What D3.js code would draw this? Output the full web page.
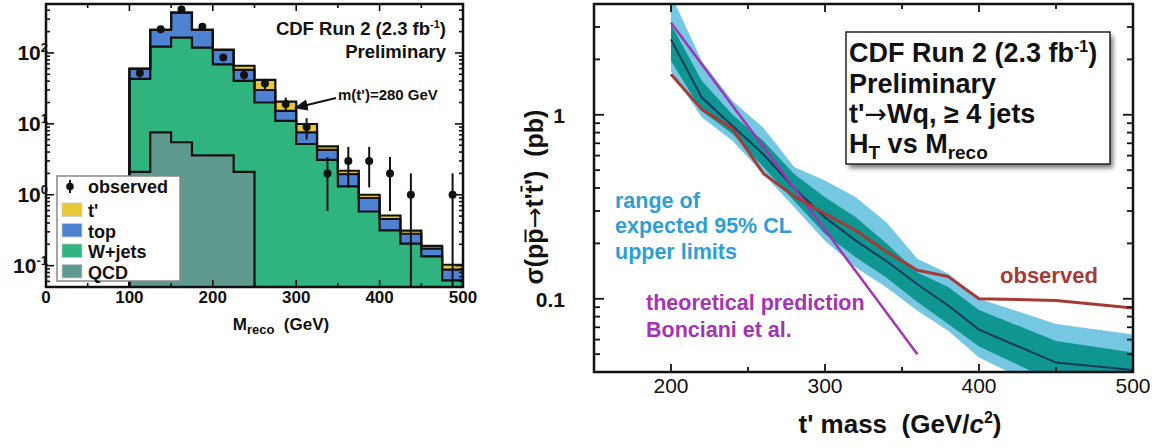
<!DOCTYPE html>
<html>
<head>
<meta charset="utf-8">
<script src="https://cdn.jsdelivr.net/npm/d3@7"></script>
<style>
  body { margin: 0; background: #fff; }
  svg { display: block; }
  text { font-family: "Liberation Sans", Arial, Helvetica, sans-serif; }
  .arrow { font-family: "DejaVu Sans", sans-serif; }
</style>
</head>
<body>
<svg id="chart" width="1165" height="448"></svg>
<script>
// ---------- Left panel: reconstructed mass distribution (events per 25 GeV bin) ----------
const binLo    = [100,125,150,175,200,225,250,275,300,325,350,375,400,425,450,475];
const qcdEv    = [2.1,7.6,5.5,3.6,3.6,2.1,0,0,0,0,0,0,0,0,0,0];
const wjetsEv  = [40.9,115.4,158.5,115.4,65.4,38.3,20,11,5.2,3.1,1.31,0.58,0.314,0.204,0.135,0.062];
const topEv    = [16.6,88,206,92,41,17.2,10,4.2,2.4,1.2,0.65,0.32,0.141,0.078,0.039,0.026];
const tprimeEv = [0.3,0.8,1.5,1.5,1.5,8.4,11.7,5.4,2.35,0.5,0.22,0.1,0.055,0.029,0.016,0.015];

const obsMass = [112.5,137.5,162.5,187.5,212.5,237.5,262.5,287.5,312.5,337.5,362.5,387.5,412.5,437.5,487.5];
const obsEv   = [52,216,410,235,86,49,37,19,9,2,3,3,2,1,1];
const obsErr  = [7.2,14.7,20.2,15.3,9.3,7,6.1,4.4,3,1.41,1.73,1.73,1.41,1,1];

const leftXTicks = [0,100,200,300,400,500];
const leftYTicks = [{v:100, e:"2"}, {v:10, e:"1"}, {v:1, e:"0"}, {v:0.1, e:"-1"}];

// ---------- Right panel: 95% CL upper limits on the t' pair cross section ----------
const massPts   = [200,220,240,260,280,300,320,340,360,380,400,450,500];
const obsLimit  = [1.66,1.07,0.84,0.48,0.36,0.29,0.235,0.18,0.143,0.132,0.100,0.098,0.089];
const expMedian = [2.57,1.24,0.87,0.61,0.40,0.277,0.207,0.16,0.12,0.092,0.068,0.045,0.041];
const exp1Lo    = [1.96,1.05,0.786,0.52,0.34,0.225,0.168,0.13,0.096,0.073,0.055,0.035,0.031];
const exp1Hi    = [3.1,1.53,1.0,0.72,0.477,0.356,0.277,0.2,0.139,0.116,0.087,0.059,0.051];
const exp2Lo    = [1.72,0.97,0.72,0.477,0.314,0.207,0.148,0.115,0.086,0.067,0.048,0.03,0.028];
const exp2Hi    = [4.5,1.96,1.19,0.85,0.52,0.44,0.356,0.26,0.165,0.137,0.10,0.073,0.064];
const theoryMass = [200,220,240,260,280,300,320,340,360];
const theoryXsec = [3.16,1.88,1.12,0.67,0.40,0.237,0.141,0.084,0.050];

const rightXTicks = [200,300,400,500];
const rightYTicks = [{v:1, t:"1"}, {v:0.1, t:"0.1"}];

const svg = d3.select("#chart");
const defs = svg.append("defs");

// colours
const C = {
  tprime: "#e8c836", top: "#4f82d2", wjets: "#2fb47f", qcd: "#5f9a91",
  band2: "#76c8e2", band1: "#0f9592", median: "#1b3a5c",
  observed: "#a63a37", theory: "#a334b4", rangeText: "#2e9fd3"
};

// helper: log-axis minor tick values inside a domain
function logMinor(lo, hi) {
  const out = [];
  for (let e = Math.floor(Math.log10(lo)); e <= Math.ceil(Math.log10(hi)); e++) {
    for (let m = 1; m <= 9; m++) {
      const v = m * Math.pow(10, e);
      if (v >= lo * 0.999 && v <= hi * 1.001) out.push({v, major: m === 1});
    }
  }
  return out;
}

// ===================== LEFT PANEL =====================
const L = {x0: 46, x1: 463, y0: 4, y1: 287};
const xL = d3.scaleLinear().domain([0, 500]).range([L.x0, L.x1]);
const yL = d3.scaleLog().domain([0.05, 490]).range([L.y1, L.y0]);
const yLs = v => (v > 0 ? Math.min(L.y1 + 6, yL(v)) : L.y1 + 6);

defs.append("clipPath").attr("id", "clipL")
  .append("rect").attr("x", L.x0).attr("y", L.y0)
  .attr("width", L.x1 - L.x0).attr("height", L.y1 - L.y0);

const rows = binLo.map((lo, i) => ({lo, hi: lo + 25,
  qcd: qcdEv[i], wjets: wjetsEv[i], top: topEv[i], tprime: tprimeEv[i]}));
const keys = ["qcd", "wjets", "top", "tprime"];
const stacked = d3.stack().keys(keys)(rows);

function stepPts(layer) {
  const pts = [[layer[0].data.lo, 0]];
  layer.forEach(d => { pts.push([d.data.lo, d[1]]); pts.push([d.data.hi, d[1]]); });
  pts.push([layer[layer.length - 1].data.hi, 0]);
  return pts;
}
const histArea = d3.area().x(p => xL(p[0])).y0(L.y1 + 6).y1(p => yLs(p[1]));
const histLine = d3.line().x(p => xL(p[0])).y(p => yLs(p[1]));

const gL = svg.append("g").attr("clip-path", "url(#clipL)");
// fills, outermost layer first
for (let k = keys.length - 1; k >= 0; k--) {
  gL.append("path").attr("d", histArea(stepPts(stacked[k])))
    .attr("fill", C[keys[k]]);
}
// black outlines of every cumulative layer
for (let k = 0; k < keys.length; k++) {
  gL.append("path").attr("d", histLine(stepPts(stacked[k])))
    .attr("fill", "none").attr("stroke", "#111").attr("stroke-width", 2.2)
    .attr("stroke-linejoin", "miter");
}

// observed data with error bars
const gObs = gL.append("g");
obsMass.forEach((m, i) => {
  const lo = obsEv[i] - obsErr[i], hi = obsEv[i] + obsErr[i];
  gObs.append("line").attr("x1", xL(m)).attr("x2", xL(m))
    .attr("y1", yLs(hi)).attr("y2", lo > 0.01 ? yLs(lo) : L.y1 + 6)
    .attr("stroke", "#111").attr("stroke-width", 2);
  gObs.append("circle").attr("cx", xL(m)).attr("cy", yLs(obsEv[i])).attr("r", 4)
    .attr("fill", "#111");
});

// frame + ticks
svg.append("rect").attr("x", L.x0).attr("y", L.y0)
  .attr("width", L.x1 - L.x0).attr("height", L.y1 - L.y0)
  .attr("fill", "none").attr("stroke", "#111").attr("stroke-width", 2.5);

const tkL = svg.append("g").attr("stroke", "#111").attr("stroke-width", 1.6);
d3.range(0, 501, 50).forEach(v => {
  const len = v % 100 === 0 ? 7 : 4;
  tkL.append("line").attr("x1", xL(v)).attr("x2", xL(v)).attr("y1", L.y1).attr("y2", L.y1 - len);
  tkL.append("line").attr("x1", xL(v)).attr("x2", xL(v)).attr("y1", L.y0).attr("y2", L.y0 + len);
});
logMinor(0.05, 490).forEach(t => {
  const len = t.major ? 8 : 4;
  const y = yL(t.v);
  tkL.append("line").attr("x1", L.x0).attr("x2", L.x0 + len).attr("y1", y).attr("y2", y);
  tkL.append("line").attr("x1", L.x1).attr("x2", L.x1 - len).attr("y1", y).attr("y2", y);
});

// tick labels
leftXTicks.forEach(v => {
  svg.append("text").attr("x", xL(v)).attr("y", 303).attr("text-anchor", "middle")
    .attr("font-size", 17).attr("font-weight", "bold").attr("fill", "#111").text(v);
});
leftYTicks.forEach(t => {
  const tx = svg.append("text").attr("x", 48).attr("y", yL(t.v) + 7).attr("text-anchor", "end")
    .attr("font-size", 21).attr("font-weight", "bold").attr("fill", "#111");
  tx.append("tspan").text("10");
  tx.append("tspan").attr("dy", -8).attr("font-size", 13).text(t.e);
});

// axis title
const xtL = svg.append("text").attr("x", 281).attr("y", 330).attr("text-anchor", "middle")
  .attr("font-size", 17).attr("font-weight", "bold").attr("fill", "#111");
xtL.append("tspan").text("M");
xtL.append("tspan").attr("dy", 4).attr("font-size", 13).text("reco");
xtL.append("tspan").attr("dy", -4).text("\u00a0\u00a0(GeV)");

// header
const hL = svg.append("text").attr("x", 446).attr("y", 35).attr("text-anchor", "end")
  .attr("font-size", 18.5).attr("font-weight", "bold").attr("fill", "#111");
hL.append("tspan").text("CDF Run 2 (2.3 fb");
hL.append("tspan").attr("dy", -7).attr("font-size", 11).text("-1");
hL.append("tspan").attr("dy", 7).text(")");
svg.append("text").attr("x", 446).attr("y", 58).attr("text-anchor", "end")
  .attr("font-size", 18.5).attr("font-weight", "bold").attr("fill", "#111").text("Preliminary");

// signal-mass annotation with arrow
defs.append("marker").attr("id", "arrowL").attr("viewBox", "0 0 10 10")
  .attr("refX", 1).attr("refY", 5).attr("markerWidth", 7).attr("markerHeight", 7)
  .attr("orient", "auto")
  .append("path").attr("d", "M0,1 L10,5 L0,9 Z").attr("fill", "#111");
svg.append("line").attr("x1", 336).attr("y1", 98).attr("x2", 306).attr("y2", 105.3)
  .attr("stroke", "#111").attr("stroke-width", 2).attr("marker-end", "url(#arrowL)");
svg.append("text").attr("x", 338).attr("y", 100)
  .attr("font-size", 15).attr("font-weight", "bold").attr("fill", "#111")
  .text("m(t')=280 GeV");

// legend
const lg = svg.append("g");
lg.append("rect").attr("x", 57).attr("y", 176).attr("width", 123).attr("height", 105)
  .attr("fill", "#fff").attr("stroke", "#888").attr("stroke-width", 1.5);
lg.append("line").attr("x1", 70).attr("x2", 70).attr("y1", 180).attr("y2", 193)
  .attr("stroke", "#111").attr("stroke-width", 2);
lg.append("circle").attr("cx", 70).attr("cy", 186.5).attr("r", 3.8).attr("fill", "#111");
lg.append("text").attr("x", 88).attr("y", 193).attr("font-size", 18)
  .attr("font-weight", "bold").attr("fill", "#111").text("observed");
const legItems = [
  {label: "t'", color: C.tprime},
  {label: "top", color: C.top},
  {label: "W+jets", color: C.wjets},
  {label: "QCD", color: C.qcd}
];
legItems.forEach((d, i) => {
  const y = 203 + i * 20.5;
  lg.append("rect").attr("x", 62).attr("y", y).attr("width", 20).attr("height", 13.5)
    .attr("fill", d.color).attr("stroke", "#ccc").attr("stroke-width", 0.8);
  lg.append("text").attr("x", 88).attr("y", y + 14).attr("font-size", 18)
    .attr("font-weight", "bold").attr("fill", "#111").text(d.label);
});

// ===================== RIGHT PANEL =====================
const R = {x0: 594, x1: 1133, y0: 4, y1: 372};
const xR = d3.scaleLinear().domain([150, 500]).range([R.x0, R.x1]);
const yR = d3.scaleLog().domain([0.04, 4]).range([R.y1, R.y0]);

defs.append("clipPath").attr("id", "clipR")
  .append("rect").attr("x", R.x0).attr("y", R.y0)
  .attr("width", R.x1 - R.x0).attr("height", R.y1 - R.y0);

const gR = svg.append("g").attr("clip-path", "url(#clipR)");
const band = (lo, hi) => d3.area()
  .x((d, i) => xR(massPts[i])).y0((d, i) => yR(lo[i])).y1((d, i) => yR(hi[i]));
gR.append("path").attr("d", band(exp2Lo, exp2Hi)(massPts)).attr("fill", C.band2);
gR.append("path").attr("d", band(exp1Lo, exp1Hi)(massPts)).attr("fill", C.band1);

const lineR = vals => d3.line().x((d, i) => xR(massPts[i])).y((d, i) => yR(vals[i]))(massPts);
gR.append("path").attr("d", lineR(expMedian)).attr("fill", "none")
  .attr("stroke", C.median).attr("stroke-width", 2);
gR.append("path")
  .attr("d", d3.line().x((d, i) => xR(theoryMass[i])).y((d, i) => yR(theoryXsec[i]))(theoryMass))
  .attr("fill", "none").attr("stroke", C.theory).attr("stroke-width", 2.5);
gR.append("path").attr("d", lineR(obsLimit)).attr("fill", "none")
  .attr("stroke", C.observed).attr("stroke-width", 3).attr("stroke-linejoin", "round");

// frame + ticks
svg.append("rect").attr("x", R.x0).attr("y", R.y0)
  .attr("width", R.x1 - R.x0).attr("height", R.y1 - R.y0)
  .attr("fill", "none").attr("stroke", "#111").attr("stroke-width", 2.5);
const tkR = svg.append("g").attr("stroke", "#111").attr("stroke-width", 1.8);
d3.range(200, 500, 50).forEach(v => {
  const len = v % 100 === 0 ? 8 : 5;
  tkR.append("line").attr("x1", xR(v)).attr("x2", xR(v)).attr("y1", R.y1).attr("y2", R.y1 - len);
  tkR.append("line").attr("x1", xR(v)).attr("x2", xR(v)).attr("y1", R.y0).attr("y2", R.y0 + len);
});
logMinor(0.04, 4).forEach(t => {
  const len = t.major ? 10 : 6;
  const y = yR(t.v);
  tkR.append("line").attr("x1", R.x0).attr("x2", R.x0 + len).attr("y1", y).attr("y2", y);
  tkR.append("line").attr("x1", R.x1).attr("x2", R.x1 - len).attr("y1", y).attr("y2", y);
});

rightXTicks.forEach(v => {
  svg.append("text").attr("x", xR(v)).attr("y", 393).attr("text-anchor", "middle")
    .attr("font-size", 21).attr("fill", "#111").text(v);
});
rightYTicks.forEach(t => {
  svg.append("text").attr("x", 565).attr("y", yR(t.v) + 8).attr("text-anchor", "end")
    .attr("font-size", 21).attr("font-weight", "bold").attr("fill", "#111").text(t.t);
});

// x axis title
const xtR = svg.append("text").attr("x", 900).attr("y", 433).attr("text-anchor", "middle")
  .attr("font-size", 26).attr("font-weight", "bold").attr("fill", "#111");
xtR.append("tspan").text("t' mass\u00a0\u00a0(GeV/");
xtR.append("tspan").attr("font-style", "italic").text("c");
xtR.append("tspan").attr("dy", -10).attr("font-size", 16).text("2");
xtR.append("tspan").attr("dy", 10).text(")");

// y axis title: σ(p p̄ → t' t̄') (pb), bars drawn over the antiparticle letters
const ytFs = 25;
const ytG = svg.append("g").attr("transform", "translate(543,197) rotate(-90)");
const ytR = ytG.append("text").attr("x", 0).attr("y", 0)
  .attr("text-anchor", "middle").attr("font-size", ytFs).attr("font-weight", "bold").attr("fill", "#111");
ytR.append("tspan").text("\u03c3(pp");
ytR.append("tspan").attr("class", "arrow").attr("font-weight", "normal").text("\u2192");
ytR.append("tspan").text("t't')\u00a0\u00a0(pb)");
// character indices of the barred letters in the full string "σ(pp→t't')  (pb)"
[{i: 3, h: 0.70}, {i: 7, h: 0.86}].forEach(b => {
  const ext = ytR.node().getExtentOfChar(b.i);
  ytG.append("line")
    .attr("x1", ext.x + 1.5).attr("x2", ext.x + ext.width - 1)
    .attr("y1", -b.h * ytFs).attr("y2", -b.h * ytFs)
    .attr("stroke", "#111").attr("stroke-width", 2);
});

// in-plot labels
const rangeLines = ["range of", "expected 95% CL", "upper limits"];
rangeLines.forEach((s, i) => {
  svg.append("text").attr("x", 615).attr("y", 207.5 + i * 25.5)
    .attr("font-size", 21.5).attr("font-weight", "bold").attr("fill", C.rangeText).text(s);
});
["theoretical prediction", "Bonciani et al."].forEach((s, i) => {
  svg.append("text").attr("x", 646).attr("y", 310 + i * 26.5)
    .attr("font-size", 21.5).attr("font-weight", "bold").attr("fill", C.theory).text(s);
});
svg.append("text").attr("x", 1000).attr("y", 283)
  .attr("font-size", 22).attr("fill", C.observed).attr("font-weight", "bold").text("observed");

// boxed header with drop shadow
const sh = defs.append("filter").attr("id", "shadow").attr("x", "-10%").attr("y", "-10%")
  .attr("width", "130%").attr("height", "130%");
sh.append("feGaussianBlur").attr("stdDeviation", 2.5);
svg.append("rect").attr("x", 849).attr("y", 36).attr("width", 264).attr("height", 132)
  .attr("fill", "#777").attr("filter", "url(#shadow)");
svg.append("rect").attr("x", 846).attr("y", 32).attr("width", 264).attr("height", 132)
  .attr("fill", "#fff").attr("stroke", "#222").attr("stroke-width", 1.5);
const bx = 849, fs = 27;
const b1 = svg.append("text").attr("x", bx).attr("y", 62).attr("font-size", fs)
  .attr("font-weight", "bold").attr("fill", "#111");
b1.append("tspan").text("CDF Run 2 (2.3 fb");
b1.append("tspan").attr("dy", -10).attr("font-size", 16).text("-1");
b1.append("tspan").attr("dy", 10).text(")");
svg.append("text").attr("x", bx).attr("y", 93).attr("font-size", fs)
  .attr("font-weight", "bold").attr("fill", "#111").text("Preliminary");
const b3 = svg.append("text").attr("x", bx).attr("y", 123).attr("font-size", fs)
  .attr("font-weight", "bold").attr("fill", "#111");
b3.append("tspan").text("t'");
b3.append("tspan").attr("class", "arrow").attr("font-weight", "normal").text("\u2192");
b3.append("tspan").text("Wq, \u2265 4 jets");
const b4 = svg.append("text").attr("x", bx).attr("y", 153).attr("font-size", fs)
  .attr("font-weight", "bold").attr("fill", "#111");
b4.append("tspan").text("H");
b4.append("tspan").attr("dy", 6).attr("font-size", 19).text("T");
b4.append("tspan").attr("dy", -6).text(" vs M");
b4.append("tspan").attr("dy", 6).attr("font-size", 19).text("reco");
</script>
</body>
</html>
